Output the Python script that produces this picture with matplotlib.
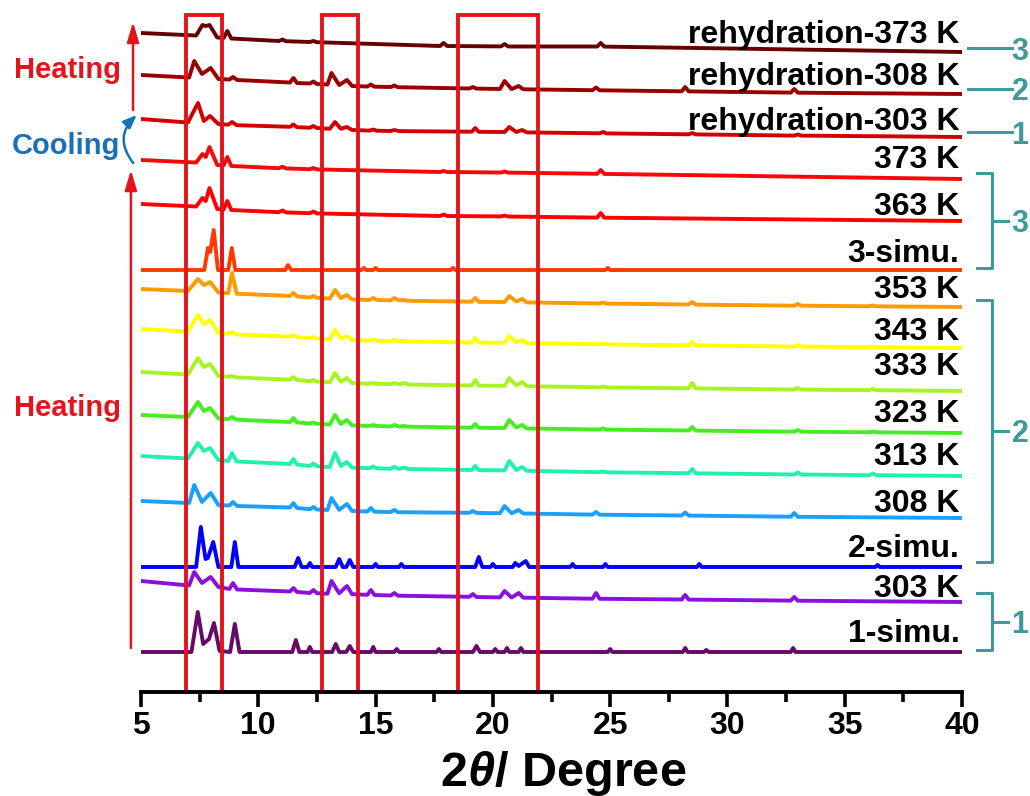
import matplotlib
matplotlib.use("Agg")
import matplotlib.pyplot as plt

# --- data (2theta, intensity above the right-end baseline) ---
names = ["1-simu.", "303 K", "2-simu.", "308 K", "313 K", "323 K", "333 K",
         "343 K", "353 K", "3-simu.", "363 K", "373 K",
         "rehydration-303 K", "rehydration-308 K", "rehydration-373 K"]
offsets = [40, 90, 125, 174, 216, 259, 301, 344, 385, 422, 471, 513, 555, 598, 640]
colors = ["#650a65", "#8a10e0", "#0000ff", "#1aa0ff", "#22f0b0", "#44ee22",
          "#a6f522", "#ffff00", "#ff9a00", "#ff3a00", "#ff0000", "#f70808",
          "#d00000", "#990000", "#660000"]

x_1simu = [5, 7.15, 7.42, 7.65, 7.9, 8.11, 8.35, 8.8, 9.0, 9.2, 11.45, 11.6, 11.75,
           12.1, 12.2, 12.3, 13.15, 13.3, 13.45, 13.75, 13.9, 14.05, 14.8, 14.9, 15.0,
           15.8, 15.9, 16.0, 17.6, 17.7, 17.8, 19.15, 19.3, 19.45, 20.0, 20.1, 20.2,
           20.5, 20.6, 20.7, 21.1, 21.2, 21.3, 24.9, 25.0, 25.1, 28.1, 28.2, 28.3,
           29.0, 29.1, 29.2, 32.7, 32.8, 32.9, 40]
y_1simu = [0, 0, 40, 8, 13, 29, 1, 0, 28, 0, 0, 12, 0, 0, 5, 0, 0, 8, 0, 0, 6, 0,
           0, 5, 0, 0, 3, 0, 0, 3, 0, 0, 6, 0, 0, 3, 0, 0, 4, 0, 0, 4, 0, 0, 3, 0,
           0, 4, 0, 0, 2, 0, 0, 4, 0, 0]

x_2simu = [5, 7.35, 7.55, 7.75, 7.85, 8.08, 8.3, 8.85, 9.0, 9.15, 11.55, 11.7, 11.85,
           12.1, 12.2, 12.3, 13.3, 13.45, 13.6, 13.75, 13.9, 14.05, 14.9, 15.0, 15.1,
           16.0, 16.1, 16.2, 19.25, 19.4, 19.55, 19.9, 20.0, 20.1, 20.85, 20.95, 21.1,
           21.4, 21.55, 23.3, 23.4, 23.5, 24.7, 24.8, 24.9, 28.7, 28.8, 28.9, 36.3,
           36.4, 36.5, 40]
y_2simu = [0, 0, 40, 8, 9, 25, 0, 0, 25, 0, 0, 9, 0, 0, 4, 0, 0, 8, 0, 0, 7, 0, 0,
           3, 0, 0, 3, 0, 0, 10, 0, 0, 3, 0, 0, 4, 1, 6, 0, 0, 3, 0, 0, 3, 0, 0, 3,
           0, 0, 2, 0, 0]

x_3simu = [5, 7.7, 7.85, 7.95, 8.1, 8.28, 8.72, 8.87, 9.02, 11.15, 11.27, 11.4, 14.4,
           14.5, 14.6, 14.9, 15.0, 15.1, 18.2, 18.3, 18.4, 24.8, 24.9, 25.0, 40]
y_3simu = [0, 0, 22, 18, 40, 0, 0, 22, 0, 0, 5, 0, 0, 2, 0, 0, 2, 0, 0, 2, 0, 0, 2,
           0, 0]

# measured patterns of phase 2 type
x_a = [5, 7.0, 7.43, 7.68, 7.94, 8.3, 8.72, 8.88, 9.08, 11.35, 11.5, 11.65, 12.2,
       12.35, 12.5, 13.05, 13.27, 13.52, 13.77, 14.0, 14.75, 14.9, 15.05, 15.65, 15.8,
       16.0, 16.2, 16.4, 19.1, 19.25, 19.4, 20.5, 20.7, 21.0, 21.25, 21.45, 24.55,
       24.7, 24.85, 28.35, 28.5, 28.65, 32.85, 33.0, 33.15, 36.05, 36.2, 36.35, 40]
y_313 = [20, 17.5, 33, 25, 28, 16, 15, 23, 14.5, 12, 17, 11.5, 10, 12.5, 9.8, 9, 23,
         10, 14, 8.3, 7.8, 9.5, 7.7, 7.3, 9, 7.1, 8.5, 7, 6, 10, 5.9, 5.6, 15, 6, 9,
         5.2, 3.8, 4.5, 3.7, 2.8, 7, 2.7, 1.5, 3.5, 1.5, 0.8, 2.5, 0.8, 0]
y_323 = [18, 16, 31, 22, 25, 14.5, 13.8, 16, 13.3, 11, 15, 10.6, 9.5, 10.5, 9.2, 8.5,
         18, 9, 13, 7.6, 7.1, 8, 7, 6.6, 8, 6.5, 7, 6.3, 5.3, 9, 5.2, 5, 13, 5.5, 8,
         4.6, 3.5, 4.5, 3.4, 2.5, 6, 2.4, 1.3, 3, 1.3, 0.7, 1.5, 0.7, 0]
y_333 = [19, 16.5, 33, 24, 27, 15, 14.2, 15, 13.6, 11.3, 14, 11, 9.8, 11, 9.5, 8.8,
         18, 9.3, 13, 7.9, 7.3, 8, 7.2, 6.8, 8, 6.7, 8, 6.5, 5.5, 11, 5.4, 5.2, 13,
         5.7, 9, 4.8, 3.7, 4.5, 3.6, 2.7, 8, 2.6, 1.4, 3, 1.4, 0.8, 2, 0.8, 0]
y_343 = [19, 16.5, 33, 24, 28, 15, 14.2, 16, 13.6, 11.3, 13, 11, 9.8, 11, 9.5, 8.8,
         18, 9.3, 12, 7.9, 7.3, 8.5, 7.2, 6.8, 8, 6.7, 7, 6.5, 5.5, 10, 5.4, 5.2, 12,
         5.7, 8, 4.8, 3.7, 4.5, 3.6, 2.7, 6, 2.6, 1.4, 3, 1.4, 0.8, 1.5, 0.8, 0]
y_353 = [18, 16, 28, 22, 25, 14.5, 13.8, 34, 13.3, 11, 14, 10.6, 9.5, 11, 9.2, 8.5,
         17, 9, 12, 7.6, 7.1, 9, 7, 6.6, 9, 6.5, 7, 6.3, 5.3, 9, 5.2, 5, 11, 5.5, 8,
         4.6, 3.5, 4.5, 3.4, 2.5, 5, 2.4, 1.3, 3, 1.3, 0.7, 1.5, 0.7, 0]
y_r303 = [18, 14.5, 34, 16, 21, 13, 12.3, 15, 11.8, 10.2, 12.5, 9.8, 9.3, 11, 9, 8.2,
          15, 8.2, 10, 7, 6.4, 7.5, 6.3, 6, 7, 5.9, 5.9, 5.8, 5.3, 9, 5.2, 5, 10, 5,
          7, 4.6, 3.7, 5, 3.6, 2.7, 4, 2.6, 1.4, 2.5, 1.4, 0.8, 0.8, 0.8, 0]

# measured patterns of phase 1 type
x_b = [5, 7.05, 7.27, 7.6, 7.97, 8.3, 8.77, 8.92, 9.1, 11.35, 11.5, 11.65, 12.2,
       12.35, 12.5, 12.95, 13.12, 13.45, 13.78, 14.0, 14.65, 14.8, 14.95, 15.65, 15.8,
       15.95, 19.0, 19.15, 19.3, 20.3, 20.5, 20.8, 21.1, 21.3, 24.25, 24.4, 24.55,
       28.05, 28.2, 28.35, 32.7, 32.85, 33.0, 40]
y_303 = [21, 16.5, 30, 19, 25, 15, 13, 19, 12.5, 10.5, 14, 10, 9, 12, 8.8, 8.3, 21,
         8.8, 16, 7.8, 7.2, 12, 7, 6.5, 9, 6.3, 5.2, 8, 5, 4.6, 11, 4.5, 9, 4.3, 3.3,
         9, 3.2, 2.5, 7, 2.4, 1.4, 5, 1.3, 0]
y_308 = [17, 15, 33, 16, 25, 13, 12.5, 16, 12, 10.5, 15, 10, 8.8, 11, 8.5, 8, 20,
         8.2, 14, 7, 6.5, 10, 6.3, 6, 8, 5.8, 5.2, 7, 5.1, 4.8, 12, 4.7, 8, 4.5, 3.4,
         6, 3.3, 2.5, 5.5, 2.4, 1.3, 5, 1.2, 0]
y_r308 = [19, 16.5, 33, 20, 26, 15, 14.5, 17, 14, 11.5, 16, 11, 10.5, 12.5, 10, 9.5,
          21, 9, 14, 8, 7.5, 9.5, 7.3, 7, 8.5, 6.8, 5.5, 7, 5.4, 5, 13, 4.9, 8, 4.7,
          3.8, 6.5, 3.7, 2.7, 7, 2.6, 1.4, 5, 1.3, 0]

# measured patterns of phase 3 type
x_c = [5, 7.35, 7.62, 7.76, 7.92, 8.25, 8.52, 8.68, 8.85, 10.88, 11.03, 11.18, 12.2,
       12.35, 12.5, 17.75, 17.9, 18.05, 20.35, 20.5, 20.65, 24.45, 24.6, 24.75, 40]
y_363 = [17, 14.5, 23, 20, 33, 12, 11.5, 20, 11, 8.8, 10.5, 8.6, 7.8, 9.5, 7.6, 5,
         6.5, 5, 4.6, 5.5, 4.5, 3.4, 8, 3.3, 0]
y_373 = [19, 16.5, 25, 22, 32, 14, 13.5, 22, 13, 10.8, 12.3, 10.6, 9.8, 11, 9.6, 7,
         8, 7, 6.5, 7.5, 6.4, 5.2, 9, 5.1, 0]
y_r373 = [19, 16.5, 27, 26, 27, 14.5, 14, 21, 13.5, 11, 12.5, 10.8, 10, 11, 9.8, 6,
          9, 6, 5.6, 8, 5.5, 5.5, 9, 5.4, 0]

box_ranges = [(6.92, 8.45), (12.72, 14.25), (18.51, 21.92)]

traces = [(x_1simu, y_1simu), (x_b, y_303), (x_2simu, y_2simu), (x_b, y_308),
          (x_a, y_313), (x_a, y_323), (x_a, y_333), (x_a, y_343), (x_a, y_353),
          (x_3simu, y_3simu), (x_c, y_363), (x_c, y_373), (x_a, y_r303),
          (x_b, y_r308), (x_c, y_r373)]

# --- styling ---
plt.rcParams["font.family"] = ["Liberation Sans", "DejaVu Sans"]
plt.rcParams["font.weight"] = "bold"
plt.rcParams["mathtext.fontset"] = "custom"
plt.rcParams["mathtext.it"] = "Liberation Sans:italic:bold"
plt.rcParams["mathtext.rm"] = "Liberation Sans:bold"

red = "#e3141c"
teal = "#3f9a9c"
blue = "#1a6fb8"

fig = plt.figure(figsize=(10.3, 7.96), dpi=100)
ax = fig.add_axes([141 / 1030, 104 / 796, 821 / 1030, 682 / 796])
ax.set_xlim(5, 40)
ax.set_ylim(0, 682)

label_lift = [10, 5, 10, 6, 11, 11, 16, 8, 9, 8, 6, 11, 7, 9, 9]
for (xs, ys), off, c, name, lift in zip(traces, offsets, colors, names, label_lift):
    ax.plot(xs, [v + off for v in ys], color=c, lw=2.8, solid_joinstyle="round",
            zorder=3)
    ax.text(39.9, off + lift, name, ha="right", va="baseline", fontsize=23,
            color="black", zorder=6)

# red boxes
for x0, x1 in box_ranges:
    ax.plot([x0, x0, x1, x1], [0, 677, 677, 0], color=red, lw=2.8,
            solid_joinstyle="miter", clip_on=False, zorder=5)

# axis styling
for s in ["top", "left", "right"]:
    ax.spines[s].set_visible(False)
ax.spines["bottom"].set_linewidth(2.8)
ax.spines["bottom"].set_zorder(7)
ax.set_yticks([])
ax.set_xticks(range(5, 41, 5))
ax.set_xticks([7.5, 12.5, 17.5, 22.5, 27.5, 32.5, 37.5], minor=True)
ax.tick_params(axis="x", which="major", direction="out", length=11, width=2.6,
               labelsize=23, pad=3)
ax.tick_params(axis="x", which="minor", direction="out", length=7, width=2.6)
fig.text((563.5) / 1030, 1 - 786 / 796, r"2$\mathit{\theta}$/ Degree", ha="center",
         va="baseline", fontsize=35)

# left arrows and labels
arrow_red = dict(arrowstyle="-|>,head_length=0.6,head_width=0.18", color=red,
                 lw=1.8, mutation_scale=20, shrinkA=0, shrinkB=0)
ax.annotate("", xy=(4.57, 522), xytext=(4.57, 44), arrowprops=arrow_red,
            annotation_clip=False)
ax.annotate("", xy=(4.66, 670), xytext=(4.66, 582), arrowprops=arrow_red,
            annotation_clip=False)
ax.annotate("", xy=(4.82, 577), xytext=(4.67, 529),
            arrowprops=dict(arrowstyle="-|>,head_length=0.5,head_width=0.2",
                            color=blue, lw=1.8, mutation_scale=16, shrinkA=0,
                            shrinkB=0, connectionstyle="arc3,rad=-0.45"),
            annotation_clip=False)
ax.text(1.85, 625, "Heating", color=red, fontsize=21, ha="center",
        va="center_baseline", clip_on=False)
ax.text(1.85, 287, "Heating", color=red, fontsize=21, ha="center",
        va="center_baseline", clip_on=False)
ax.text(1.8, 549, "Cooling", color=blue, fontsize=21, ha="center",
        va="center_baseline", clip_on=False)

# right-hand brackets
for top, bot, num in [(519, 424, "3"), (392, 130, "2"), (99, 42, "1")]:
    mid = (top + bot) / 2
    ax.plot([40.64, 41.28, 41.28, 40.64], [top, top, bot, bot], color=teal, lw=2.2,
            clip_on=False)
    ax.plot([41.28, 41.96], [mid, mid], color=teal, lw=2.2, clip_on=False)
    ax.text(42.47, mid, num, color=teal, fontsize=22, ha="center",
            va="center_baseline", clip_on=False)
for yv, num in [(644, "3"), (603, "2"), (560, "1")]:
    ax.plot([40.26, 42.13], [yv, yv], color=teal, lw=2.2, clip_on=False)
    ax.text(42.47, yv, num, color=teal, fontsize=22, ha="center",
            va="center_baseline", clip_on=False)

fig.savefig("out.png", dpi=100)
